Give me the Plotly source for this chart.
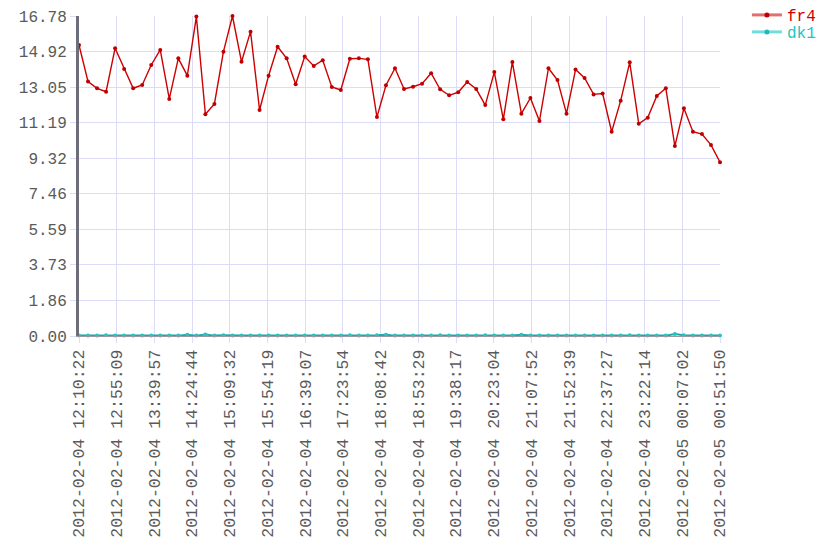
import pandas as pd
import plotly.graph_objects as go

start_time = "2012-02-04 12:10:22"
end_time = "2012-02-05 00:51:50"
n_points = 72

fr4 = [15.26, 13.34, 12.99, 12.81, 15.09, 14.00, 12.99, 13.16, 14.21, 15.00,
       12.43, 14.56, 13.65, 16.75, 11.63, 12.17, 14.91, 16.78, 14.38, 15.96,
       11.85, 13.65, 15.17, 14.56, 13.20, 14.65, 14.16, 14.46, 13.06, 12.90,
       14.54, 14.56, 14.51, 11.48, 13.15, 14.04, 12.95, 13.07, 13.23, 13.78,
       12.94, 12.62, 12.78, 13.32, 12.95, 12.11, 13.84, 11.36, 14.37, 11.66,
       12.48, 11.27, 14.04, 13.42, 11.66, 13.97, 13.53, 12.67, 12.71, 10.71,
       12.34, 14.35, 11.13, 11.45, 12.59, 12.99, 9.96, 11.94, 10.71, 10.59,
       10.02, 9.11]

dk1 = [0.02, 0.02, 0.02, 0.04, 0.02, 0.02, 0.02, 0.02, 0.02, 0.02,
       0.02, 0.02, 0.07, 0.02, 0.08, 0.02, 0.04, 0.02, 0.02, 0.02,
       0.02, 0.02, 0.02, 0.02, 0.02, 0.02, 0.02, 0.02, 0.02, 0.02,
       0.04, 0.02, 0.02, 0.04, 0.07, 0.02, 0.02, 0.02, 0.02, 0.02,
       0.04, 0.02, 0.02, 0.02, 0.02, 0.04, 0.02, 0.02, 0.02, 0.06,
       0.02, 0.02, 0.02, 0.02, 0.02, 0.02, 0.02, 0.02, 0.02, 0.02,
       0.02, 0.04, 0.02, 0.02, 0.02, 0.02, 0.10, 0.04, 0.02, 0.02,
       0.02, 0.02]

x_tick_labels = ["2012-02-04 12:10:22", "2012-02-04 12:55:09", "2012-02-04 13:39:57",
                 "2012-02-04 14:24:44", "2012-02-04 15:09:32", "2012-02-04 15:54:19",
                 "2012-02-04 16:39:07", "2012-02-04 17:23:54", "2012-02-04 18:08:42",
                 "2012-02-04 18:53:29", "2012-02-04 19:38:17", "2012-02-04 20:23:04",
                 "2012-02-04 21:07:52", "2012-02-04 21:52:39", "2012-02-04 22:37:27",
                 "2012-02-04 23:22:14", "2012-02-05 00:07:02", "2012-02-05 00:51:50"]

y_max = 16.78
y_tick_vals = [0, 1.864, 3.729, 5.593, 7.458, 9.322, 11.187, 13.051, 14.916, 16.78]
y_tick_labels = ["0.00", "1.86", "3.73", "5.59", "7.46", "9.32", "11.19", "13.05", "14.92", "16.78"]

times = pd.date_range(start_time, end_time, periods=n_points)

FONT = "Liberation Mono"
GRID = "#dcdcf6"
RED = "#cc0000"
TEAL = "#22c4c4"
TXT = "#5a5a5a"

fig = go.Figure()
fig.add_trace(go.Scatter(
    x=times, y=fr4, mode="lines+markers", showlegend=False,
    line=dict(color=RED, width=1.4),
    marker=dict(color="#c00000", size=4),
    cliponaxis=False, hoverinfo="skip",
))
fig.add_trace(go.Scatter(
    x=times, y=dk1, mode="lines+markers", showlegend=False,
    line=dict(color="#20a8a8", width=2),
    marker=dict(color=TEAL, size=4),
    cliponaxis=False, hoverinfo="skip",
))
# legend entries
fig.add_trace(go.Scatter(
    x=[None], y=[None], mode="lines+markers", legend="legend",
    name="<span style='color:%s'>fr4</span>" % RED,
    line=dict(color="#e07070", width=3),
    marker=dict(color="#c00000", size=5),
))
fig.add_trace(go.Scatter(
    x=[None], y=[None], mode="lines+markers", legend="legend2",
    name="<span style='color:%s'>dk1</span>" % TEAL,
    line=dict(color="#70dede", width=3),
    marker=dict(color="#20b8b8", size=5),
))

fig.update_layout(
    width=840, height=560,
    margin=dict(l=79, r=120, t=16, b=224, autoexpand=False),
    paper_bgcolor="white", plot_bgcolor="white",
    font=dict(family=FONT, size=16, color=TXT),
    legend=dict(x=1.042, y=1.0 + 1 / 320, xanchor="left", yanchor="middle",
                font=dict(family=FONT, size=16), itemwidth=30,
                bgcolor="rgba(0,0,0,0)", borderwidth=0),
    legend2=dict(x=1.042, y=1.0 - 16 / 320, xanchor="left", yanchor="middle",
                 font=dict(family=FONT, size=16), itemwidth=30,
                 bgcolor="rgba(0,0,0,0)", borderwidth=0),
)
fig.update_xaxes(
    type="date", automargin=False,
    range=[pd.Timestamp(start_time), pd.Timestamp(end_time)],
    tickvals=pd.to_datetime(x_tick_labels), ticktext=x_tick_labels,
    tickangle=-90,
    showgrid=True, gridcolor=GRID, gridwidth=1,
    ticks="outside", ticklen=6, tickcolor=GRID,
    showline=True, linecolor="#9a9aa6", linewidth=1,
    zeroline=False,
    tickfont=dict(family=FONT, size=16.5, color=TXT),
)
fig.update_yaxes(
    automargin=False,
    range=[0, y_max],
    tickvals=y_tick_vals, ticktext=y_tick_labels,
    showgrid=True, gridcolor=GRID, gridwidth=1,
    ticks="outside", ticklen=6, tickcolor=GRID,
    showline=True, linecolor="#6e6e7a", linewidth=3,
    zeroline=False,
    tickfont=dict(family=FONT, size=16, color=TXT),
)

fig.write_html("out.html", config={"displayModeBar": False},
               post_script="document.body.style.margin='0';")
